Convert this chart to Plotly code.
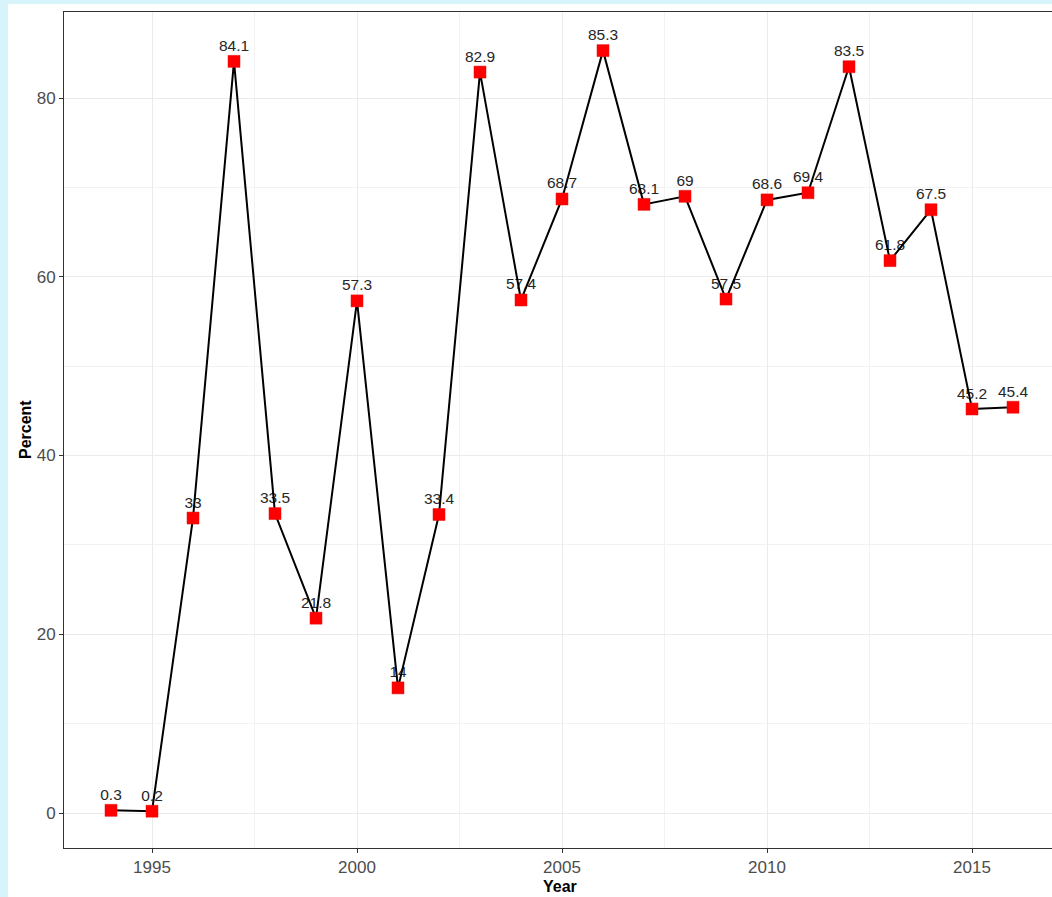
import plotly.graph_objects as go

years = list(range(1994, 2017))
percent = [0.3, 0.2, 33, 84.1, 33.5, 21.8, 57.3, 14, 33.4, 82.9, 57.4, 68.7,
           85.3, 68.1, 69, 57.5, 68.6, 69.4, 83.5, 61.8, 67.5, 45.2, 45.4]
labels = [f"{v:g}" for v in percent]

W, H = 1052, 897
L, R, T, B = 64, 0, 12, 49
pw, ph = W - L - R, H - T - B

FONT = "Liberation Sans, Arial, sans-serif"
BG = "#d6f4f9"

fig = go.Figure()
# labels (drawn below lines, as in the reference); invisible marker sets text offset
fig.add_trace(go.Scatter(x=years, y=percent, mode="markers+text", text=labels,
                         textposition="top center",
                         marker=dict(size=9, opacity=0),
                         textfont=dict(family=FONT, size=15.5, color="#262626"),
                         showlegend=False, hoverinfo="skip"))
fig.add_trace(go.Scatter(x=years, y=percent, mode="lines",
                         line=dict(color="black", width=2), showlegend=False))
fig.add_trace(go.Scatter(x=years, y=percent, mode="markers",
                         marker=dict(symbol="square", size=12, color="#ff0000",
                                     line=dict(color="#e01010", width=0.5)),
                         showlegend=False))

px_per_year = 41.0
x0 = 1994 - (111 - L) / px_per_year
x1 = 1994 + (W - 111) / px_per_year
py = 715 / 80.0
y1 = (813 - T) / py
y0 = -(H - B - 813) / py

def px_x(p):
    return (p - L) / pw

def px_y(p):
    return (H - B - p) / ph

fig.update_layout(
    width=W, height=H,
    margin=dict(l=L, r=R, t=T, b=B, pad=0),
    paper_bgcolor=BG,
    plot_bgcolor="white",
    font=dict(family=FONT),
    shapes=[dict(type="rect", xref="paper", yref="paper", layer="below",
                 x0=px_x(8), x1=1.02, y0=px_y(4), y1=px_y(H + 5),
                 fillcolor="white", line=dict(width=0))],
    annotations=[
        dict(text="<b>Year</b>", xref="paper", yref="paper", x=px_x(560), y=px_y(886),
             showarrow=False, font=dict(size=16, color="black", family=FONT),
             xanchor="center", yanchor="middle"),
        dict(text="<b>Percent</b>", xref="paper", yref="paper", x=px_x(25), y=px_y(430),
             showarrow=False, textangle=-90, font=dict(size=16, color="black", family=FONT),
             xanchor="center", yanchor="middle"),
    ],
)
fig.update_xaxes(range=[x0, x1], tick0=1995, dtick=5, showgrid=True,
                 gridcolor="#ebebeb", gridwidth=1,
                 minor=dict(dtick=2.5, tick0=1995, showgrid=True, gridcolor="#f2f2f2", gridwidth=1),
                 showline=True, linecolor="#333333", linewidth=1, mirror=True,
                 ticks="outside", ticklen=4, tickcolor="#333333",
                 tickfont=dict(size=17, color="#4d4d4d", family=FONT), zeroline=False)
fig.update_yaxes(range=[y0, y1], tick0=0, dtick=20, showgrid=True,
                 gridcolor="#ebebeb", gridwidth=1,
                 minor=dict(dtick=10, tick0=0, showgrid=True, gridcolor="#f2f2f2", gridwidth=1),
                 showline=True, linecolor="#333333", linewidth=1,
                 ticks="outside", ticklen=4, tickcolor="#333333",
                 tickfont=dict(size=17, color="#4d4d4d", family=FONT), zeroline=False)

fig.write_html(
    "out.html",
    config={"displayModeBar": False},
    post_script=("document.body.style.margin='0';"
                 "document.body.style.overflow='hidden';"
                 "document.body.style.background='" + BG + "';"),
)
